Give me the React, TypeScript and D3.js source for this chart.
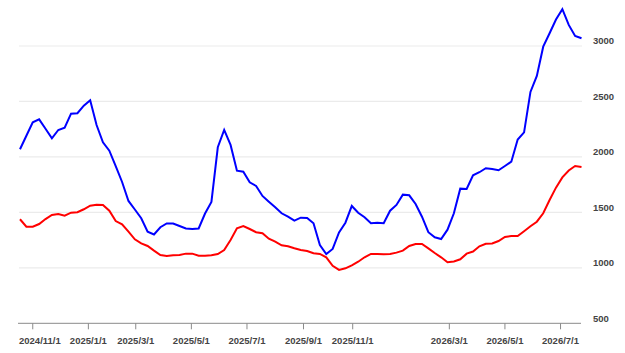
import React, { useEffect, useRef } from 'react';
import * as d3 from 'd3';

// weekly observation dates (holiday weeks are missing in the source data)
const dates = [
  '2024-10-18', '2024-10-25', '2024-11-01', '2024-11-08', '2024-11-15', '2024-11-22', '2024-11-29',
  '2024-12-06', '2024-12-13', '2024-12-20', '2024-12-27', '2025-01-03', '2025-01-10', '2025-01-17',
  '2025-01-24', '2025-02-07', '2025-02-14', '2025-02-21', '2025-02-28', '2025-03-07', '2025-03-14',
  '2025-03-21', '2025-03-28', '2025-04-04', '2025-04-11', '2025-04-18', '2025-04-25', '2025-05-02',
  '2025-05-09', '2025-05-16', '2025-05-23', '2025-05-30', '2025-06-06', '2025-06-13', '2025-06-20',
  '2025-06-27', '2025-07-04', '2025-07-11', '2025-07-18', '2025-07-25', '2025-08-01', '2025-08-08',
  '2025-08-15', '2025-08-22', '2025-08-29', '2025-09-05', '2025-09-12', '2025-09-19', '2025-09-26',
  '2025-10-10', '2025-10-17', '2025-10-24', '2025-10-31', '2025-11-07', '2025-11-14', '2025-11-21',
  '2025-11-28', '2025-12-05', '2025-12-12', '2025-12-19', '2025-12-26', '2026-01-09', '2026-01-16',
  '2026-01-23', '2026-01-30', '2026-02-06', '2026-02-13', '2026-02-27', '2026-03-06', '2026-03-13',
  '2026-03-20', '2026-03-27', '2026-04-03', '2026-04-10', '2026-04-17', '2026-04-24', '2026-05-01',
  '2026-05-08', '2026-05-15', '2026-05-22', '2026-05-29', '2026-06-05', '2026-06-12', '2026-06-19',
  '2026-06-26', '2026-07-03', '2026-07-10', '2026-07-17', '2026-07-24',
];

const blueValues = [
  2069, 2191, 2312, 2339, 2254, 2168, 2243, 2264, 2390, 2394,
  2462, 2511, 2288, 2132, 2056, 1918, 1774, 1603, 1526, 1447,
  1326, 1301, 1366, 1400, 1400, 1377, 1355, 1350, 1355, 1490,
  1594, 2087, 2243, 2108, 1876, 1867, 1771, 1738, 1648, 1596,
  1546, 1492, 1461, 1425, 1452, 1449, 1402, 1206, 1125, 1170,
  1319, 1407, 1558, 1497, 1456, 1402, 1407, 1402, 1515, 1567,
  1660, 1654, 1576, 1461, 1321, 1275, 1260, 1344, 1492, 1714,
  1711, 1835, 1862, 1898, 1891, 1880, 1918, 1957, 2157, 2222,
  2586, 2730, 2994, 3115, 3239, 3332, 3190, 3091, 3070,
];

const redValues = [
  1438, 1371, 1371, 1395, 1440, 1477, 1486, 1470, 1497, 1501,
  1528, 1560, 1569, 1567, 1515, 1422, 1393, 1326, 1257, 1221,
  1197, 1155, 1116, 1107, 1113, 1116, 1128, 1128, 1110, 1110,
  1113, 1125, 1161, 1251, 1357, 1377, 1350, 1321, 1312, 1263,
  1236, 1203, 1194, 1176, 1161, 1152, 1131, 1125, 1095, 1019,
  981, 996, 1023, 1055, 1095, 1125, 1125, 1122, 1125, 1137,
  1155, 1197, 1215, 1215, 1176, 1134, 1095, 1050, 1057, 1077,
  1128, 1147, 1194, 1217, 1220, 1242, 1278, 1287, 1287, 1330,
  1375, 1416, 1492, 1612, 1723, 1815, 1878, 1918, 1909,
];

const xTickDates = [
  '2024-11-01', '2025-01-01', '2025-03-01', '2025-05-01', '2025-07-01',
  '2025-09-01', '2025-11-01', '2026-03-01', '2026-05-01', '2026-07-01',
];

const yTicks = [500, 1000, 1500, 2000, 2500, 3000];

const W = 625;
const H = 353;

export default function App() {
  const ref = useRef<SVGSVGElement>(null);

  useEffect(() => {
    const svg = d3.select(ref.current);
    svg.selectAll('*').remove();

    const left = 20, right = 581.5, bottom = 323.3;

    const x = d3.scalePoint<string>().domain(dates).range([left, right]);
    const y = d3.scaleLinear().domain([500, 3000]).range([bottom, 46]);

    const parse = d3.timeParse('%Y-%m-%d');
    const times = dates.map((d) => parse(d) as Date);
    const fmt = d3.timeFormat('%Y/%-m/%-d');

    // position of an arbitrary date between two observation categories
    const xDate = (d: Date) => {
      const i = d3.bisectRight(times, d) - 1;
      const t0 = times[i], t1 = times[i + 1];
      const f = (d.getTime() - t0.getTime()) / (t1.getTime() - t0.getTime());
      return (x(dates[i]) as number) + f * x.step();
    };

    // gridlines
    svg.append('g')
      .selectAll('line')
      .data(yTicks.filter((v) => v > 500))
      .join('line')
      .attr('x1', 19)
      .attr('x2', 582)
      .attr('y1', (d) => y(d))
      .attr('y2', (d) => y(d))
      .attr('stroke', '#ebebeb')
      .attr('stroke-width', 1.2);

    // y labels on right
    svg.append('g')
      .selectAll('text')
      .data(yTicks)
      .join('text')
      .attr('x', 593)
      .attr('y', (d) => y(d) - 1.8)
      .attr('font-family', 'Liberation Sans, Arial, sans-serif')
      .attr('font-size', 9.5)
      .attr('font-weight', 'bold')
      .attr('fill', '#444')
      .text((d) => String(d));

    // x axis
    const ax = svg.append('g');
    ax.append('line')
      .attr('x1', 18)
      .attr('x2', 581)
      .attr('y1', bottom)
      .attr('y2', bottom)
      .attr('stroke', '#8a8a8a')
      .attr('stroke-width', 1);

    const ticks = xTickDates.map((s) => {
      const d = parse(s) as Date;
      return { pos: xDate(d), label: fmt(d) };
    });

    ax.selectAll('.tick')
      .data(ticks)
      .join('line')
      .attr('class', 'tick')
      .attr('x1', (d) => d.pos)
      .attr('x2', (d) => d.pos)
      .attr('y1', bottom)
      .attr('y2', bottom + 6)
      .attr('stroke', '#8a8a8a')
      .attr('stroke-width', 1);

    ax.selectAll('.lbl')
      .data(ticks)
      .join('text')
      .attr('class', 'lbl')
      .attr('y', 344)
      .attr('font-family', 'Liberation Sans, Arial, sans-serif')
      .attr('font-size', 9.5)
      .attr('font-weight', 'bold')
      .attr('fill', '#444')
      .text((d) => d.label)
      .each(function (d) {
        const node = this as SVGTextElement;
        const w = node.getComputedTextLength();
        node.setAttribute('x', String(Math.max(19, d.pos - w / 2)));
      });

    const line = d3.line<number>()
      .x((_, i) => x(dates[i]) as number)
      .y((d) => y(d));

    svg.append('path')
      .datum(redValues)
      .attr('d', line)
      .attr('fill', 'none')
      .attr('stroke', '#ff0000')
      .attr('stroke-width', 2);

    svg.append('path')
      .datum(blueValues)
      .attr('d', line)
      .attr('fill', 'none')
      .attr('stroke', '#0000ff')
      .attr('stroke-width', 2);
  }, []);

  return (
    <svg
      ref={ref}
      width={W}
      height={H}
      style={{ position: 'absolute', left: 0, top: 0, background: '#fff' }}
    />
  );
}
